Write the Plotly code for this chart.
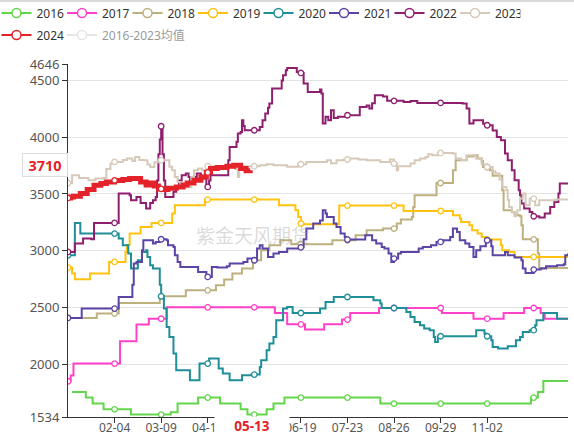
import plotly.graph_objects as go
import pandas as pd

# ---------------- categories / ticks ----------------
dates = pd.date_range("2024-01-01", "2024-12-31", freq="D")
day_labels = [d.strftime("%m-%d") for d in dates]          # 366 day categories
tick_days = [34, 68, 102, 136, 170, 204, 238, 272, 306]
marker_days = list(range(0, 366, 34))
y_ticks = [1534, 2000, 2500, 3000, 3500, 4000, 4500, 4646]

# ---------------- series (day index of change, value) ----------------
days_2016 = [3, 13, 18, 26, 46, 75, 80, 95, 111, 126, 131, 145, 150, 158, 228, 338, 343, 347, 365]
vals_2016 = [1754, 1705, 1652, 1602, 1555, 1575, 1652, 1705, 1652, 1602, 1555, 1602, 1652, 1705, 1652, 1705, 1754, 1851, 1851]

days_2017 = [0, 2, 4, 38, 50, 59, 72, 151, 160, 173, 187, 200, 206, 227, 273, 296, 318, 333, 345, 348, 365]
vals_2017 = [1849, 1900, 2005, 2202, 2349, 2400, 2501, 2451, 2351, 2305, 2351, 2393, 2451, 2495, 2451, 2401, 2451, 2495, 2451, 2401, 2401]

days_2018 = [0, 21, 37, 67, 86, 108, 114, 120, 127, 135, 141, 147, 155, 163, 193, 210, 218, 230, 240, 243,
             251, 252, 253, 269, 281, 283, 291, 296, 299, 302, 303, 308, 310, 317, 318, 324, 326, 330, 331, 332,
             343, 344, 365]
vals_2018 = [2407, 2446, 2539, 2598, 2651, 2695, 2746, 2799, 2843, 2916, 3004, 3048, 3092, 3057, 3092, 3136, 3180, 3195, 3239, 3275,
             3298, 3386, 3489, 3597, 3709, 3798, 3830, 3842, 3813, 3790, 3738, 3709, 3660, 3533, 3357, 3340, 3313, 3304, 3224, 3100,
             2975, 2848, 2848]

days_2019 = [0, 3, 5, 16, 30, 42, 43, 45, 53, 61, 76, 78, 100, 154, 166, 168, 170, 172, 198, 245,
             281, 286, 287, 293, 295, 299, 302, 305, 316, 317, 322, 326, 365]
vals_2019 = [2851, 2799, 2748, 2799, 2901, 2989, 3050, 3151, 3209, 3245, 3327, 3401, 3451, 3401, 3357, 3298, 3240, 3233, 3398, 3350,
             3313, 3283, 3254, 3224, 3180, 3151, 3121, 3098, 3048, 3004, 2989, 2945, 2945]

days_2020 = [0, 5, 9, 37, 40, 44, 46, 51, 54, 57, 58, 60, 62, 66, 67, 68, 70, 72, 74, 77,
             79, 89, 96, 103, 110, 113, 118, 127, 134, 140, 141, 145, 147, 150, 152, 157, 160, 164, 184, 188,
             194, 223, 228, 229, 247, 250, 253, 257, 260, 264, 267, 268, 270, 298, 304, 305, 309, 310, 314, 321,
             327, 330, 332, 337, 341, 342, 347, 357, 365]
vals_2020 = [2960, 3245, 3151, 3107, 3048, 2975, 2843, 2916, 2989, 3004, 2945, 2872, 2843, 2843, 2700, 2598, 2490, 2328, 2240, 2093,
             1946, 1858, 2005, 2049, 1961, 1917, 1858, 1902, 1908, 1975, 2034, 2122, 2181, 2240, 2387, 2490, 2504, 2451, 2490, 2548,
             2592, 2563, 2534, 2495, 2460, 2416, 2372, 2343, 2314, 2299, 2240, 2195, 2246, 2299, 2270, 2246, 2210, 2151, 2137, 2157,
             2210, 2240, 2284, 2299, 2343, 2387, 2451, 2401, 2401]

days_2021 = [0, 10, 37, 47, 48, 50, 54, 55, 62, 64, 67, 72, 73, 77, 78, 80, 82, 92, 95, 101,
             105, 109, 116, 118, 128, 131, 135, 138, 140, 142, 146, 150, 154, 160, 170, 172, 174, 179, 184, 186,
             188, 189, 194, 196, 199, 202, 204, 214, 217, 222, 225, 229, 231, 234, 236, 238, 241, 243, 253, 256,
             259, 265, 269, 274, 279, 281, 284, 286, 290, 293, 296, 298, 301, 305, 309, 310, 319, 321, 326, 331,
             332, 334, 338, 340, 345, 349, 357, 362, 363, 365]
vals_2021 = [2407, 2490, 2592, 2700, 2887, 2901, 3004, 3092, 3063, 3077, 3101, 3092, 3048, 3033, 2960, 2901, 2857, 2857, 2813, 2769,
             2857, 2851, 2863, 2887, 2901, 2931, 2916, 3019, 3048, 3019, 2945, 2975, 2989, 3020, 3030, 3100, 3195, 3239, 3266, 3357,
             3327, 3298, 3239, 3209, 3151, 3121, 3098, 3098, 3136, 3092, 3063, 3033, 3019, 2975, 2901, 2931, 2975, 2989, 2989, 3019,
             3033, 3048, 3077, 3092, 3121, 3195, 3165, 3092, 3063, 3033, 2945, 3004, 3040, 3092, 3040, 2960, 2989, 2960, 2940, 2916,
             2843, 2804, 2804, 2834, 2843, 2863, 2872, 2881, 2960, 2975]

days_2022 = [0, 5, 11, 17, 19, 37, 45, 46, 50, 53, 57, 60, 62, 64, 65, 66, 67, 68, 69, 70,
             71, 77, 79, 81, 83, 86, 88, 89, 92, 94, 97, 99, 101, 103, 104, 117, 118, 123, 124, 126,
             127, 128, 129, 140, 142, 144, 146, 147, 149, 156, 157, 159, 160, 167, 170, 172, 175, 184, 185, 186,
             188, 190, 192, 194, 197, 204, 213, 218, 220, 222, 224, 230, 233, 245, 250, 255, 288, 291, 293, 296,
             303, 306, 310, 313, 316, 319, 321, 324, 326, 329, 330, 331, 333, 337, 339, 344, 348, 352, 355, 358,
             359, 365]
vals_2022 = [2989, 3063, 3107, 3100, 3245, 3504, 3489, 3445, 3474, 3420, 3372, 3420, 3445, 3474, 3620, 3850, 3980, 4097, 3850, 3620,
             3474, 3520, 3562, 3620, 3665, 3680, 3650, 3621, 3650, 3680, 3660, 3636, 3562, 3620, 3665, 3797, 3915, 3960, 4033, 4047,
             4150, 4100, 4062, 4091, 4150, 4209, 4260, 4298, 4430, 4500, 4547, 4591, 4610, 4576, 4567, 4474, 4400, 4421, 4386, 4121,
             4180, 4150, 4238, 4170, 4180, 4194, 4268, 4280, 4253, 4300, 4371, 4360, 4321, 4310, 4320, 4303, 4298, 4253, 4121, 4150,
             4120, 4106, 4060, 4003, 3974, 3857, 3798, 3709, 3621, 3533, 3489, 3416, 3372, 3342, 3304, 3292, 3327, 3386, 3430, 3504,
             3592, 3597]

days_2023 = [0, 3, 8, 15, 20, 26, 28, 31, 34, 40, 43, 47, 49, 52, 55, 58, 60, 63, 66, 74,
             76, 78, 80, 82, 86, 90, 92, 95, 98, 101, 122, 124, 125, 140, 145, 150, 160, 168, 174, 189,
             192, 196, 201, 206, 212, 218, 228, 235, 238, 240, 241, 250, 253, 257, 261, 263, 266, 270, 281, 283,
             287, 291, 295, 298, 302, 306, 310, 312, 315, 317, 320, 321, 322, 324, 326, 327, 328, 330, 332, 334,
             337, 341, 344, 356, 365]
vals_2023 = [3597, 3665, 3640, 3621, 3636, 3640, 3720, 3768, 3783, 3800, 3813, 3790, 3827, 3800, 3798, 3760, 3738, 3780, 3798, 3740,
             3709, 3650, 3606, 3580, 3560, 3650, 3709, 3724, 3709, 3745, 3720, 3650, 3745, 3753, 3762, 3753, 3740, 3762, 3783, 3798,
             3770, 3798, 3804, 3813, 3804, 3798, 3783, 3804, 3768, 3709, 3745, 3768, 3798, 3813, 3827, 3851, 3842, 3862, 3857, 3813,
             3800, 3842, 3842, 3813, 3760, 3738, 3700, 3680, 3627, 3562, 3533, 3450, 3386, 3342, 3304, 3330, 3357, 3460, 3504, 3401,
             3460, 3401, 3445, 3451, 3460]

days_2024 = [0, 2, 4, 9, 14, 19, 24, 28, 34, 40, 45, 49, 53, 57, 60, 63, 66, 69, 73, 79,
             84, 87, 92, 97, 101, 104, 109, 116, 121, 126, 130, 133]
vals_2024 = [3465, 3474, 3480, 3504, 3540, 3577, 3592, 3606, 3620, 3627, 3636, 3636, 3606, 3580, 3597, 3570, 3545, 3539, 3550, 3562,
             3580, 3597, 3621, 3650, 3690, 3724, 3733, 3745, 3753, 3725, 3705, 3710]

series_names = ["2016", "2017", "2018", "2019", "2020", "2021", "2022", "2023", "2024"]
series_days = [days_2016, days_2017, days_2018, days_2019, days_2020, days_2021, days_2022, days_2023, days_2024]
series_vals = [vals_2016, vals_2017, vals_2018, vals_2019, vals_2020, vals_2021, vals_2022, vals_2023, vals_2024]
series_colors = ["#62d64a", "#ff40c8", "#bdb07f", "#ffc20e", "#1f8e98", "#5b44a6", "#8e1f6e", "#d6c9ba", "#e3222a"]
avg_name = "2016-2023均值"
avg_color = "#cccccc"

FONT = "Noto Sans, Noto Sans CJK SC, sans-serif"


def step_at(days, vals, d):
    if d < days[0] or d > days[-1]:
        return None
    out = None
    for dd, vv in zip(days, vals):
        if dd <= d:
            out = vv
        else:
            break
    return out


fig = go.Figure()

for name, days, vals, color in zip(series_names, series_days, series_vals, series_colors):
    width = 5 if name == "2024" else 2
    fig.add_trace(go.Scatter(
        x=days, y=vals, mode="lines", name=name, legendgroup=name, showlegend=False,
        line=dict(color=color, width=width, shape="hv"),
    ))
    mx = [d for d in marker_days if step_at(days, vals, d) is not None]
    my = [step_at(days, vals, d) for d in mx]
    fig.add_trace(go.Scatter(
        x=mx, y=my, mode="markers", name=name, legendgroup=name, showlegend=False,
        marker=dict(symbol="circle", size=5.5, color="white", line=dict(color=color, width=1.3)),
    ))
    fig.add_trace(go.Scatter(
        x=[None], y=[None], mode="lines+markers", name=name, legendgroup=name,
        legend="legend2" if name == "2024" else "legend",
        line=dict(color=color, width=2),
        marker=dict(symbol="circle", size=9, color="white", line=dict(color=color, width=1.5)),
    ))

fig.add_trace(go.Scatter(
    x=[None], y=[None], mode="lines+markers", name=avg_name, legend="legend2",
    visible="legendonly", legendwidth=110,
    line=dict(color=avg_color, width=2),
    marker=dict(symbol="circle", size=9, color="white", line=dict(color=avg_color, width=1.5)),
))

legend_common = dict(
    orientation="h", xanchor="left", yanchor="top",
    entrywidth=20.5, entrywidthmode="pixels", itemwidth=30,
    traceorder="normal", bgcolor="rgba(0,0,0,0)",
    font=dict(family=FONT, size=12, color="#333"),
)

last_day = days_2024[-1]
last_val = vals_2024[-1]

# the tick under the current-date marker is covered by the red date label
tick_text = ["" if d == 136 else day_labels[d] for d in tick_days]

fig.update_layout(
    width=574, height=436,
    margin=dict(l=68, r=6, t=64, b=19, autoexpand=False),
    paper_bgcolor="white", plot_bgcolor="white",
    font=dict(family=FONT, size=12, color="#555"),
    showlegend=True,
    legend=dict(x=-0.143, y=1.1856, **legend_common),
    legend2=dict(x=-0.143, y=1.1232, **legend_common),
    xaxis=dict(
        range=[0, 365], tickmode="array", tickvals=tick_days,
        ticktext=tick_text,
        showgrid=False, zeroline=False, showline=True, linecolor="#333", linewidth=1,
        ticks="outside", ticklen=5, tickcolor="#333", ticklabelstandoff=-5,
        tickfont=dict(family=FONT, size=12, color="#555"),
    ),
    yaxis=dict(
        range=[y_ticks[0], y_ticks[-1]], tickmode="array", tickvals=y_ticks,
        ticktext=[str(v) for v in y_ticks],
        showgrid=True, gridcolor="#e3e3e3", gridwidth=1, zeroline=False,
        showline=True, linecolor="#333", linewidth=1,
        ticks="outside", ticklen=5, tickcolor="#333",
        tickfont=dict(family=FONT, size=13, color="#555"),
    ),
    shapes=[dict(type="line", xref="paper", yref="paper", x0=-0.136, x1=1.012,
                 y0=1.1785, y1=1.1785, line=dict(color="#b5b5b5", width=1))],
    annotations=[
        dict(xref="paper", yref="paper", x=0.37, y=0.5156, text="紫金天风期货", showarrow=False,
             font=dict(family="Noto Sans CJK SC", size=19, color="rgba(150,150,150,0.35)")),
        dict(xref="paper", yref="y", x=-0.046, y=last_val, yshift=5, text=f"<b>{last_val}</b>",
             showarrow=False, xanchor="center", yanchor="middle", width=42, height=20,
             bgcolor="white", bordercolor="#dddddd", borderwidth=1,
             font=dict(family=FONT, size=14.5, color="#e3222a")),
        dict(xref="x", yref="paper", x=last_day, xshift=2, y=-0.0269, text=f"<b>{day_labels[last_day]}</b>",
             showarrow=False, xanchor="center", yanchor="middle", width=74, borderpad=0,
             bgcolor="white", font=dict(family=FONT, size=13.5, color="#e3222a")),
    ],
)

fig.write_html(
    "out.html",
    config={"displayModeBar": False},
    post_script="document.body.style.margin='0px';document.body.style.overflow='hidden';",
)
